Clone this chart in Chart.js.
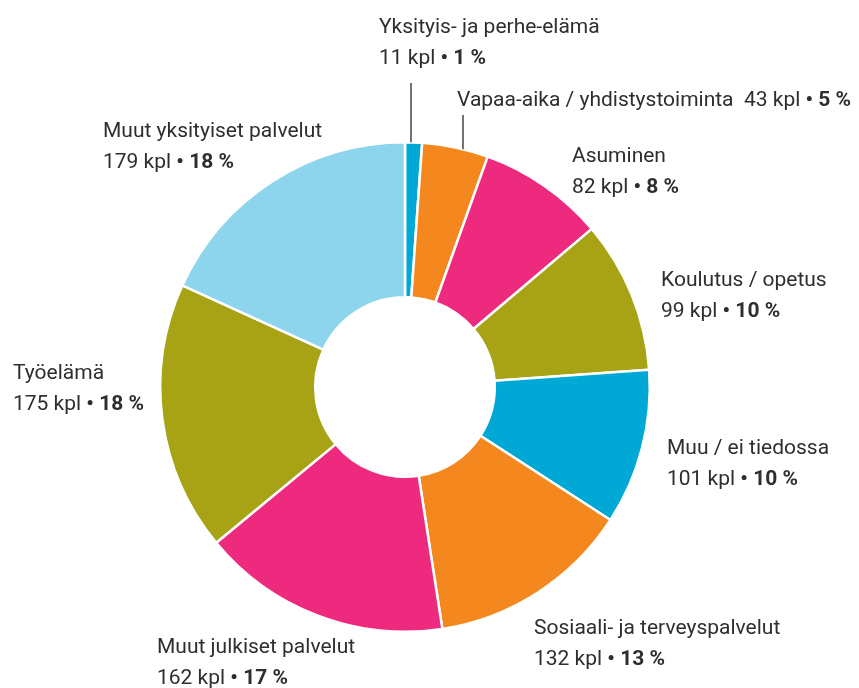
<!DOCTYPE html>
<html>
<head>
<meta charset="utf-8">
<script src="https://cdn.jsdelivr.net/npm/chart.js@4/dist/chart.umd.min.js"></script>
<style>
  html, body { margin: 0; padding: 0; background: #ffffff; }
  #wrap { width: 859px; height: 688px; position: relative; }
</style>
</head>
<body>
<div id="wrap"><canvas id="c" width="859" height="688"></canvas></div>
<script>
// ---- data ----
const categories = [
  "Yksityis- ja perhe-elämä",
  "Vapaa-aika / yhdistystoiminta",
  "Asuminen",
  "Koulutus / opetus",
  "Muu / ei tiedossa",
  "Sosiaali- ja terveyspalvelut",
  "Muut julkiset palvelut",
  "Työelämä",
  "Muut yksityiset palvelut"
];
const counts = [11, 43, 82, 99, 101, 132, 162, 175, 179];
const percents = [1, 5, 8, 10, 10, 13, 17, 18, 18];
const unit = "kpl";
const colors = ["#00A8D6", "#F5871F", "#EE2A7F", "#A7A314", "#00A8D6", "#F5871F", "#EE2A7F", "#A7A314", "#8DD4ED"];

// ---- label layout (left x, first baseline y, single-line?) ----
const labelPos = [
  { x: 379, y: 33, single: false },
  { x: 457, y: 106, single: true },
  { x: 572, y: 162, single: false },
  { x: 661, y: 286, single: false },
  { x: 667, y: 454, single: false },
  { x: 534, y: 634, single: false },
  { x: 157, y: 653, single: false },
  { x: 13,  y: 379, single: false },
  { x: 103, y: 137, single: false }
];
// leader lines: slice index, x, top y
const leaders = [
  { i: 0, x: 411, top: 83 },
  { i: 1, x: 463, top: 115 }
];

const FONT = "Roboto, 'Noto Sans', sans-serif";
const FS = 21;
const LH = 30.5;
const TEXT = "#2E2E2E";

function drawRuns(ctx, x, y, runs) {
  let cx = x;
  runs.forEach(r => {
    ctx.font = (r.bold ? "700 " : "400 ") + FS + "px " + FONT;
    ctx.fillText(r.t, cx, y);
    cx += ctx.measureText(r.t).width;
  });
}

const labelPlugin = {
  id: 'labels',
  afterDraw(chart) {
    const ctx = chart.ctx;
    const arc0 = chart.getDatasetMeta(0).data[0];
    const cx = arc0.x, cy = arc0.y, R = arc0.outerRadius;
    ctx.save();
    ctx.fillStyle = TEXT;
    ctx.textBaseline = "alphabetic";
    ctx.textAlign = "left";
    categories.forEach((name, i) => {
      const p = labelPos[i];
      const valRuns = [
        { t: counts[i] + " " + unit + " ", bold: false },
        { t: "\u2022 ", bold: true },
        { t: percents[i] + " %", bold: true }
      ];
      if (p.single) {
        drawRuns(ctx, p.x, p.y, [{ t: name + "  ", bold: false }].concat(valRuns));
      } else {
        drawRuns(ctx, p.x, p.y, [{ t: name, bold: false }]);
        drawRuns(ctx, p.x, p.y + LH, valRuns);
      }
    });
    ctx.strokeStyle = "#444444";
    ctx.lineWidth = 1.5;
    leaders.forEach(l => {
      const dx = l.x - cx;
      const yb = cy - Math.sqrt(R * R - dx * dx);
      ctx.beginPath();
      ctx.moveTo(l.x, l.top);
      ctx.lineTo(l.x, yb);
      ctx.stroke();
    });
    ctx.restore();
  }
};

new Chart(document.getElementById('c'), {
  type: 'doughnut',
  data: {
    labels: categories,
    datasets: [{
      data: counts,
      backgroundColor: colors,
      borderColor: "#ffffff",
      borderWidth: 2.5,
      hoverOffset: 0
    }]
  },
  options: {
    responsive: false,
    animation: false,
    cutout: "36.7%",
    rotation: 0,
    layout: { padding: { left: 159, right: 208, top: 141, bottom: 55 } },
    plugins: {
      legend: { display: false },
      tooltip: { enabled: false }
    }
  },
  plugins: [labelPlugin]
});
</script>
</body>
</html>
